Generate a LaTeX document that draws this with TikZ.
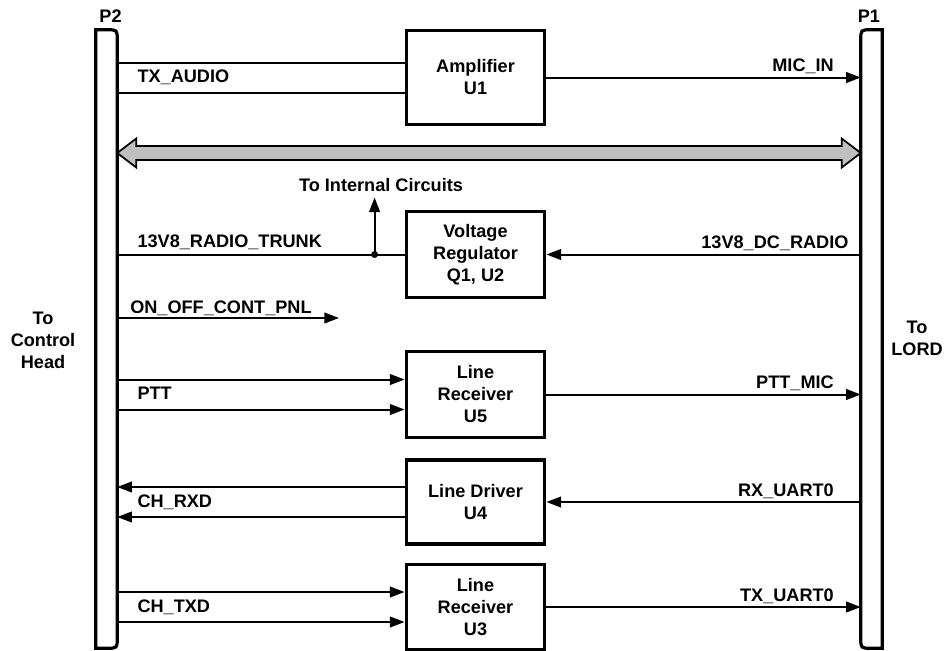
\documentclass[tikz,border=0pt]{standalone}
\usepackage{fontspec}
\setmainfont{Liberation Sans}
\usetikzlibrary{arrows.meta, positioning}

\begin{document}
\begin{tikzpicture}[
  x=0.75pt, y=-0.75pt,
  font=\fontsize{13.6}{16.5}\selectfont\bfseries,
  blk/.style={draw, line width=2.4pt, align=center, inner sep=2pt,
              minimum width=104pt, minimum height=64pt},
  bar/.style={minimum width=15.75pt, minimum height=463.5pt, inner sep=0pt},
  conn/.style={line width=2.4pt},
  sig/.style={line width=1.5pt},
  arr/.style={sig, -{Triangle[length=11pt, width=8pt]}},
  lbl/.style={inner sep=0pt},
  bus/.style={draw, line width=1.3pt, fill=black!25, line join=miter}]

  \useasboundingbox (0,0) rectangle (944,650);

  % connector bars
  \node[bar] (p2) at (106.5,339) {};
  \node[bar] (p1) at (871.5,339) {};
  \draw[conn] (p2.south west) -- (p2.north west) -- ([xshift=-8pt]p2.north east)
    .. controls (p2.north east) .. ([yshift=-8pt]p2.north east)
    -- ([yshift=8pt]p2.south east)
    .. controls (p2.south east) .. ([xshift=-8pt]p2.south east) -- cycle;
  \draw[conn] (p1.south east) -- (p1.north east) -- ([xshift=8pt]p1.north west)
    .. controls (p1.north west) .. ([yshift=-8pt]p1.north west)
    -- ([yshift=8pt]p1.south west)
    .. controls (p1.south west) .. ([xshift=8pt]p1.south west) -- cycle;
  \node[lbl, above=5pt of p2.north, xshift=3pt] (p2lbl) {P2};
  \node[lbl, above=5pt of p1.north, xshift=-2pt] (p1lbl) {P1};
  \node[lbl, align=center] (head) at (43,340) {To\\Control\\Head};
  \node[lbl, align=center] (lord) at (917,338) {To\\LORD};

  % function blocks
  \node[blk, minimum height=71pt] (ampl) at (475.5,77.5) {Amplifier\\U1};
  \node[blk] (vreg) at (475.5,254.5) {Voltage\\Regulator\\Q1, U2};
  \node[blk] (rcv5) at (475.5,394.5) {Line\\Receiver\\U5};
  \node[blk, minimum height=63pt] (drv4) at (475.5,502) {Line Driver\\U4};
  \node[blk] (rcv3) at (475.5,607) {Line\\Receiver\\U3};

  % pin points on the block inputs
  \coordinate (a1) at ([yshift=11.25pt]ampl.west);
  \coordinate (a2) at ([yshift=-11.25pt]ampl.west);
  \coordinate (r5a) at ([yshift=11.25pt]rcv5.west);
  \coordinate (r5b) at ([yshift=-11.25pt]rcv5.west);
  \coordinate (d4a) at ([yshift=11.25pt]drv4.west);
  \coordinate (d4b) at ([yshift=-11.25pt]drv4.west);
  \coordinate (r3a) at ([yshift=11.25pt]rcv3.west);
  \coordinate (r3b) at ([yshift=-11.25pt]rcv3.west);
  \coordinate (tap) at ([xshift=-22.5pt]vreg.west);
  \coordinate (onoff) at (339,318);
  \coordinate (busL) at (p2.east |- 0,153);
  \coordinate (busR) at (p1.west |- 0,153);

  % control head side
  \draw[sig] (a1 -| p2.east) -- (a1);
  \draw[sig] (a2 -| p2.east) -- (a2);
  \node[lbl, anchor=base west] at ([xshift=15pt, yshift=-3.75pt]p2.east |- ampl) {TX\_AUDIO};
  \draw[sig] (vreg -| p2.east) -- (vreg);
  \node[lbl, anchor=base west] at ([xshift=15pt, yshift=5.25pt]p2.east |- vreg) {13V8\_RADIO\_TRUNK};
  \fill (tap) circle (2.6pt);
  \node[lbl, anchor=base] (intc) at (381,191) {To Internal Circuits};
  \draw[arr] (tap) -- ([yshift=-4.5pt]intc.south -| tap);
  \draw[arr] (onoff -| p2.east) -- (onoff);
  \node[lbl, anchor=base west] at (130,313) {ON\_OFF\_CONT\_PNL};
  \draw[arr] (r5a -| p2.east) -- (r5a);
  \draw[arr] (r5b -| p2.east) -- (r5b);
  \node[lbl, anchor=base west] at ([xshift=15pt, yshift=-3.75pt]p2.east |- rcv5) {PTT};
  \draw[arr] (d4a) -- (d4a -| p2.east);
  \draw[arr] (d4b) -- (d4b -| p2.east);
  \node[lbl, anchor=base west] at ([xshift=15pt, yshift=-3.75pt]p2.east |- drv4) {CH\_RXD};
  \draw[arr] (r3a -| p2.east) -- (r3a);
  \draw[arr] (r3b -| p2.east) -- (r3b);
  \node[lbl, anchor=base west] at ([xshift=15pt, yshift=-3.75pt]p2.east |- rcv3) {CH\_TXD};

  % LORD side
  \draw[arr] (ampl) -- (ampl -| p1.west);
  \node[lbl, anchor=base east] at ([xshift=-20pt, yshift=4.5pt]p1.west |- ampl) {MIC\_IN};
  \draw[arr] (vreg -| p1.west) -- (vreg);
  \node[lbl, anchor=base east] at ([xshift=-9pt, yshift=4.5pt]p1.west |- vreg) {13V8\_DC\_RADIO};
  \draw[arr] (rcv5) -- (rcv5 -| p1.west);
  \node[lbl, anchor=base east] at ([xshift=-20pt, yshift=4.5pt]p1.west |- rcv5) {PTT\_MIC};
  \draw[arr] (drv4 -| p1.west) -- (drv4);
  \node[lbl, anchor=base east] at ([xshift=-20pt, yshift=4.5pt]p1.west |- drv4) {RX\_UART0};
  \draw[arr] (rcv3) -- (rcv3 -| p1.west);
  \node[lbl, anchor=base east] at ([xshift=-20pt, yshift=4.5pt]p1.west |- rcv3) {TX\_UART0};

  % bus
  \draw[bus] (busL) -- ([xshift=14.25pt, yshift=10.875pt]busL)
    -- ([xshift=14.25pt, yshift=5.25pt]busL) -- ([xshift=-14.25pt, yshift=5.25pt]busR)
    -- ([xshift=-14.25pt, yshift=10.875pt]busR) -- (busR)
    -- ([xshift=-14.25pt, yshift=-10.875pt]busR) -- ([xshift=-14.25pt, yshift=-5.25pt]busR)
    -- ([xshift=14.25pt, yshift=-5.25pt]busL) -- ([xshift=14.25pt, yshift=-10.875pt]busL)
    -- cycle;
\end{tikzpicture}
\end{document}
